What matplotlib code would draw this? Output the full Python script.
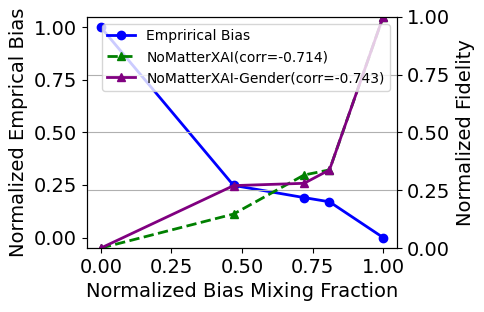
import matplotlib
matplotlib.use("Agg")
import matplotlib.pyplot as plt

# mixing fraction (x) and normalized series
mix_frac = [0.0, 0.47, 0.72, 0.81, 1.0]
emp_bias = [1.0, 0.248, 0.19, 0.17, 0.0]
fid_nomatter = [0.0, 0.147, 0.316, 0.338, 1.0]
fid_gender = [0.0, 0.27, 0.28, 0.338, 1.0]

plt.rcParams["font.size"] = 14

fig, ax = plt.subplots(figsize=(4.85, 3.12), dpi=100)
fig.subplots_adjust(left=0.179, right=0.819, top=0.946, bottom=0.205)
ax2 = ax.twinx()

l1, = ax.plot(mix_frac, emp_bias, color="blue", marker="o", lw=2, ms=6,
              label="Emprirical Bias")
l2, = ax2.plot(mix_frac, fid_nomatter, color="green", marker="^", ls="--",
               lw=2, ms=6, label="NoMatterXAI(corr=-0.714)")
l3, = ax2.plot(mix_frac, fid_gender, color="purple", marker="^", lw=2, ms=6,
               label="NoMatterXAI-Gender(corr=-0.743)")

ax.set_xlabel("Normalized Bias Mixing Fraction")
ax.set_ylabel("Normalized Emprical Bias")
ax2.set_ylabel("Normalized Fidelity")
ax2.set_ylim(0, 1)
ax2.set_yticks([0, 0.25, 0.5, 0.75, 1.0])
ax2.grid(True, axis="y", color="#b0b0b0")
ax.set_xticks([0, 0.25, 0.5, 0.75, 1.0])

ax2.legend(handles=[l1, l2, l3], loc="upper left", fontsize=10,
           bbox_to_anchor=(0.026, 1.0))

fig.savefig("out.png")
